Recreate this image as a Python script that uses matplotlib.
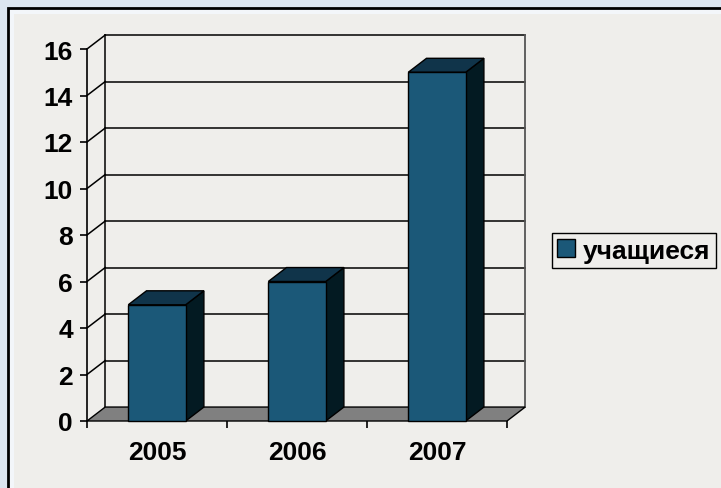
import matplotlib.pyplot as plt
from matplotlib.patches import Polygon, Rectangle, Patch

years = ['2005', '2006', '2007']
students = [5, 6, 15]
series_name = 'учащиеся'
y_ticks = [0, 2, 4, 6, 8, 10, 12, 14, 16]

plt.rcParams['font.family'] = ['Liberation Sans', 'DejaVu Sans']
plt.rcParams['font.weight'] = 'bold'

W, H = 721, 489
fig = plt.figure(figsize=(W / 100, H / 100), dpi=100)
fig.patch.set_facecolor('#dde6f1')

# slide background panel (pixel coords)
bg = fig.add_axes([0, 0, 1, 1])
bg.set_xlim(0, W)
bg.set_ylim(H, 0)
bg.axis('off')
bg.add_patch(Rectangle((8, 9), W, H, facecolor='#f3f6fa', edgecolor='black', lw=2))
bg.add_patch(Rectangle((14, 15), W, H, facecolor='#efeeeb', edgecolor='none'))

# chart axes: front plane, x in categories, y in values
ax = fig.add_axes([87 / W, 67 / H, 420 / W, 372 / H])
ax.set_xlim(0, len(years))
ax.set_ylim(0, 16)
ax.patch.set_visible(False)
for s in ['top', 'right', 'bottom']:
    ax.spines[s].set_visible(False)
ax.spines['left'].set_linewidth(1.2)

dx, dy = 0.13, 0.6  # depth offset in data units
n = len(years)
bar_w = 0.41

# floor
ax.add_patch(Polygon([(0, 0), (n, 0), (n + dx, dy), (dx, dy)], closed=True,
                     facecolor='#808080', edgecolor='black', lw=1, clip_on=False, zorder=1))

# walls: gridlines on back wall and left wall
for v in y_ticks[1:]:
    ax.plot([dx, n + dx], [v + dy, v + dy], color='black', lw=1.1, clip_on=False, zorder=0.5)
    ax.plot([0, dx], [v, v + dy], color='black', lw=1.1, clip_on=False, zorder=0.5)
ax.plot([dx, dx], [dy, 16 + dy], color='black', lw=1.1, clip_on=False, zorder=0.5)
ax.plot([n + dx, n + dx], [dy, 16 + dy], color='#555555', lw=1.3, clip_on=False, zorder=0.5)

# 3D bars
for i, v in enumerate(students):
    x0 = i + 0.5 - bar_w / 2
    x1 = x0 + bar_w
    ax.add_patch(Polygon([(x1, 0), (x1 + dx, dy), (x1 + dx, v + dy), (x1, v)], closed=True,
                         facecolor='#031a22', edgecolor='black', lw=1, clip_on=False, zorder=2))
    ax.add_patch(Polygon([(x0, v), (x1, v), (x1 + dx, v + dy), (x0 + dx, v + dy)], closed=True,
                         facecolor='#10344a', edgecolor='black', lw=1, clip_on=False, zorder=2))
    ax.add_patch(Rectangle((x0, 0), bar_w, v, facecolor='#1b5878', edgecolor='black',
                           lw=1, clip_on=False, zorder=3))

ax.set_yticks(y_ticks)
ax.tick_params(axis='y', length=5, width=1.2, pad=5, labelsize=19)
ax.set_xticks([i + 0.5 for i in range(n)], years)
ax.tick_params(axis='x', length=0, pad=13.5, labelsize=19)
ax.set_xticks(range(n + 1), minor=True)
ax.tick_params(axis='x', which='minor', length=5, width=1.2, direction='out')

fig.legend(handles=[Patch(facecolor='#1b5878', edgecolor='black', lw=1, label=series_name)],
           loc='center left', bbox_to_anchor=(552 / W, (H - 251.5) / H), borderaxespad=0,
           frameon=True, fancybox=False, edgecolor='black', facecolor='#efeeeb',
           framealpha=1, handlelength=0.67, handleheight=0.67, handletextpad=0.3,
           borderpad=0.2, prop={'weight': 'bold', 'size': 19})

fig.savefig('out.png', dpi=100, facecolor=fig.get_facecolor())
